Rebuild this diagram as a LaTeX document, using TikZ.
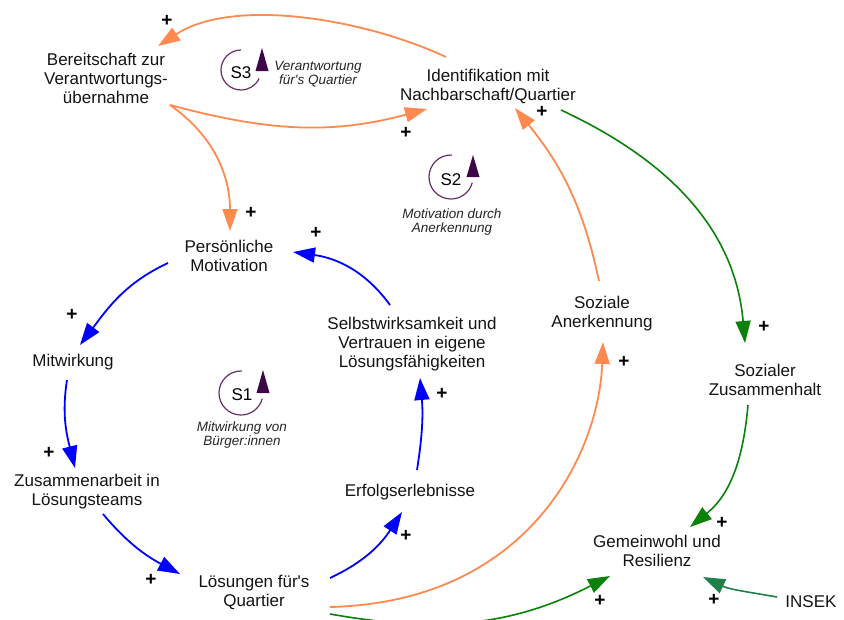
\documentclass[tikz,border=0pt]{standalone}
\usepackage{fontspec}
\setmainfont{Liberation Sans}[Ligatures=TeXOff]
\usetikzlibrary{arrows.meta,calc}

\definecolor{cldorange}{RGB}{255,138,80}
\definecolor{cldblue}{RGB}{0,0,255}
\definecolor{cldgreen}{RGB}{10,130,10}
\definecolor{cldsea}{RGB}{30,128,72}
\definecolor{looparc}{RGB}{105,45,105}
\definecolor{loophead}{RGB}{62,8,72}

\begin{document}
\begin{tikzpicture}[x=1pt,y=1pt,
  var/.style={align=center, font=\fontsize{17}{19}\selectfont, inner sep=0pt, text=black!92},
  loopname/.style={font=\fontsize{17}{18}\selectfont, inner sep=0pt},
  looplabel/.style={align=center, font=\fontsize{13.5}{14.5}\selectfont\itshape, inner sep=0pt, text=black!85},
  pol/.style={font=\fontsize{19}{19}\selectfont\bfseries, inner sep=0pt},
  link/.style={line width=1.8pt, -{Triangle[length=22pt,width=15pt]}},
  orangelink/.style={link, draw=cldorange},
  bluelink/.style={link, draw=cldblue},
  greenlink/.style={link, draw=cldgreen, line width=1.6pt},
  sealink/.style={link, draw=cldsea, line width=1.6pt},
  looparrow/.style={draw=looparc, line width=1.2pt},
  loophd/.style={fill=loophead}
]
\useasboundingbox[fill=white] (0,0) rectangle (844,-619);

% variables
\node[var] (B) at (106,-78)  {Bereitschaft zur\\Verantwortungs-\\übernahme};
\node[var] (I) at (488,-86)  {Identifikation mit\\Nachbarschaft/Quartier};
\node[var] (P) at (229,-256) {Persönliche\\Motivation};
\node[var] (M) at (73,-362)  {Mitwirkung};
\node[var] (Z) at (87,-492)  {Zusammenarbeit in\\Lösungsteams};
\node[var] (L) at (254,-592) {Lösungen für's\\Quartier};
\node[var] (E) at (410,-492) {Erfolgserlebnisse};
\node[var] (W) at (412,-344) {Selbstwirksamkeit und\\Vertrauen in eigene\\Lösungsfähigkeiten};
\node[var] (A) at (602,-314) {Soziale\\Anerkennung};
\node[var] (H) at (765,-380) {Sozialer\\Zusammenhalt};
\node[var] (G) at (657,-551) {Gemeinwohl und\\Resilienz};
\node[var] (K) at (811,-602) {INSEK};

% loop S3
\draw[looparrow] (241,-70) ++(90:20) arc[start angle=90, end angle=335, radius=20];
\fill[loophd] (255.5,-71) -- (268.5,-71) -- (262,-48) -- cycle;
\node[loopname] (s3) at (241,-73) {S3};
\node[looplabel] (s3t) at (318,-74) {Verantwortung\\für's Quartier};

% loop S2
\draw[looparrow] (451,-177) ++(88:22) arc[start angle=88, end angle=345, radius=22];
\fill[loophd] (466.5,-177) -- (479.5,-177) -- (473,-155) -- cycle;
\node[loopname] (s2) at (451,-180) {S2};
\node[looplabel] (s2t) at (452,-222) {Motivation durch\\Anerkennung};

% loop S1
\draw[looparrow] (241,-393) ++(88:22) arc[start angle=88, end angle=345, radius=22];
\fill[loophd] (256.5,-393) -- (269.5,-393) -- (263,-370) -- cycle;
\node[loopname] (s1) at (242,-395) {S1};
\node[looplabel] (s1t) at (242,-435) {Mitwirkung von\\Bürger:innen};

% orange links
\draw[orangelink] ($(I)+(-42,29)$) to[out=155,in=33,looseness=0.8] ($(B)+(52,32)$);
\draw[orangelink] ($(B)+(64,-27)$) to[out=-15,in=195] ($(I)+(-61,-23)$);
\draw[orangelink] ($(B)+(64,-27)$) to[out=-35,in=90] ($(P)+(1,25)$);
\draw[orangelink] ($(A)+(-3,33)$) to[out=102,in=309] ($(I)+(27,-22)$);
\draw[orangelink] ($(L)+(76,-15)$) .. controls +(200,5) and +(-4,-110) .. ($(A)+(1,-28)$);

% green links
\draw[greenlink] ($(I)+(73,-24)$) to[out=-25,in=95] ($(H)+(-20,37)$);
\draw[greenlink] ($(H)+(-17,-25)$) to[out=-95,in=39] ($(G)+(33,24)$);
\draw[greenlink] ($(L)+(76,-22)$) to[out=-10,in=207] ($(G)+(-47,-25)$);
\draw[sealink] ($(K)+(-34,5)$) to[out=170,in=-25] ($(G)+(46,-26)$);

% blue links
\draw[bluelink] ($(P)+(-61,-7)$) to[out=205,in=53] ($(M)+(7,17)$);
\draw[bluelink] ($(M)+(-6,-18)$) to[out=-99,in=104] ($(Z)+(-12,24)$);
\draw[bluelink] ($(Z)+(16,-22)$) to[out=-50,in=152] ($(L)+(-74,18)$);
\draw[bluelink] ($(L)+(76,14)$) to[out=25,in=237] ($(E)+(-8,-20)$);
\draw[bluelink] ($(E)+(7,22)$) to[out=81,in=275] ($(W)+(8,-34)$);
\draw[bluelink] ($(W)+(-22,39)$) to[out=126,in=-8] ($(P)+(64,4)$);

% polarities
\node[pol] (p1)  at (167,-21)  {+};
\node[pol] (p2)  at (406,-133) {+};
\node[pol] (p3)  at (251,-213) {+};
\node[pol] (p4)  at (542,-112) {+};
\node[pol] (p5)  at (764,-327) {+};
\node[pol] (p6)  at (722,-523) {+};
\node[pol] (p7)  at (714,-600) {+};
\node[pol] (p8)  at (600,-601) {+};
\node[pol] (p9)  at (624,-362) {+};
\node[pol] (p10) at (72,-315)  {+};
\node[pol] (p11) at (49,-453)  {+};
\node[pol] (p12) at (151,-580) {+};
\node[pol] (p13) at (406,-536) {+};
\node[pol] (p14) at (442,-394) {+};
\node[pol] (p15) at (316,-233) {+};
\end{tikzpicture}
\end{document}
